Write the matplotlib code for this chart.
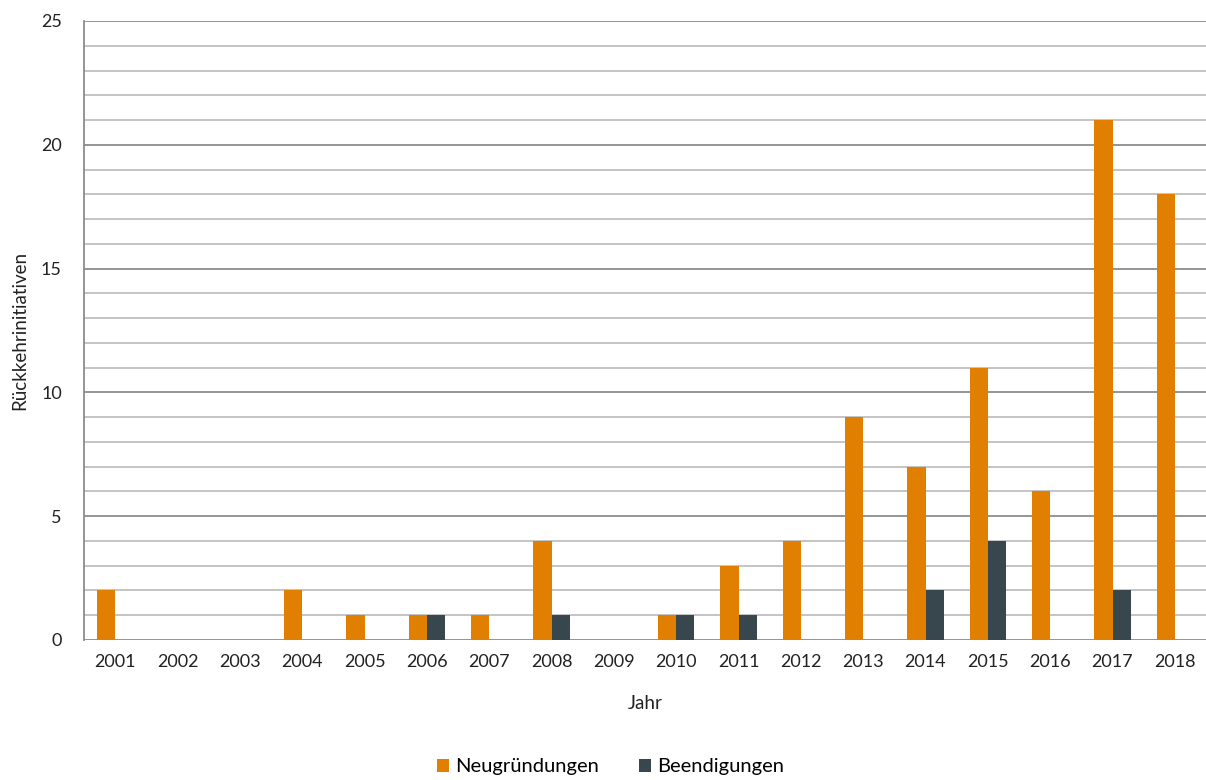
import matplotlib.pyplot as plt
import numpy as np
from matplotlib.ticker import MultipleLocator

jahre = [str(y) for y in range(2001, 2019)]
neugruendungen = [2, 0, 0, 2, 1, 1, 1, 4, 0, 1, 3, 4, 9, 7, 11, 6, 21, 18]
beendigungen = [0, 0, 0, 0, 0, 1, 0, 1, 0, 1, 1, 0, 0, 2, 4, 0, 2, 0]

plt.rcParams["font.family"] = ["Lato", "DejaVu Sans"]

fig = plt.figure(figsize=(12.06, 7.8), dpi=100)
ax = fig.add_axes([0.0697, 0.1795, 0.9303, 0.7936])

x = np.arange(len(jahre))
w = 0.29
ax.bar(x - w / 2, neugruendungen, w, color="#E07F00", label="Neugründungen", zorder=3)
ax.bar(x + w / 2, beendigungen, w, color="#37474D", label="Beendigungen", zorder=3)

ax.set_xlim(-0.5, len(jahre) - 0.5)
ax.set_ylim(0, 25)
ax.yaxis.set_major_locator(MultipleLocator(5))
ax.yaxis.set_minor_locator(MultipleLocator(1))
ax.grid(axis="y", which="major", color="#8c8c8c", linewidth=1.3, zorder=0)
ax.grid(axis="y", which="minor", color="#bfbfbf", linewidth=1.3, zorder=0)
ax.set_xticks(x)
ax.set_xticklabels(jahre)
ax.tick_params(axis="both", which="both", length=0, labelsize=13, colors="#222222", pad=10)
ax.tick_params(axis="y", pad=16)

for s in ["top", "right", "bottom"]:
    ax.spines[s].set_visible(False)
ax.spines["left"].set_color("#8c8c8c")
ax.spines["left"].set_linewidth(1.3)

ax.set_xlabel("Jahr", fontsize=13.5, color="#222222", labelpad=18)
ax.set_ylabel("Rückkehrinitiativen", fontsize=13.5, color="#222222", labelpad=9)

fig.legend(loc="center", bbox_to_anchor=(0.506, 0.017), ncols=2, frameon=False,
           fontsize=14.5, handlelength=0.6, handleheight=0.6, handletextpad=0.3,
           columnspacing=2.0)

fig.savefig("out.png", dpi=100)
